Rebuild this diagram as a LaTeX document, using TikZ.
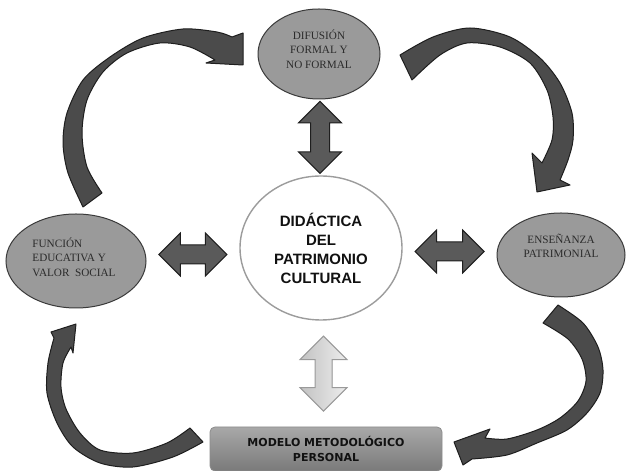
\documentclass[tikz,border=0pt]{standalone}
\usepackage{fontspec}
\setmainfont{Liberation Serif}
\setsansfont{Liberation Sans}
\newfontfamily\plainsans{DejaVu Sans}
\usetikzlibrary{shapes.geometric,shapes.arrows,calc}
\definecolor{ink}{HTML}{111111}
\definecolor{ovaltext}{HTML}{2B2B2B}
\definecolor{ovalfill}{HTML}{9A9A9A}
\definecolor{ovalline}{HTML}{3A3A3A}
\definecolor{hubline}{HTML}{9C9C9C}
\definecolor{turnfill}{HTML}{4B4B4B}
\definecolor{turnline}{HTML}{1E1E1E}
\definecolor{swapfill}{HTML}{5A5A5A}
\definecolor{paletop}{HTML}{EDEDED}
\definecolor{palebottom}{HTML}{C2C2C2}
\definecolor{paleline}{HTML}{9A9A9A}
\definecolor{boxtop}{HTML}{A8A8A8}
\definecolor{boxbottom}{HTML}{7A7A7A}
\definecolor{boxline}{HTML}{8C8C8C}
\tikzset{
  oval/.style={
    ellipse,
    draw=ovalline,
    line width=1pt,
    fill=ovalfill,
    inner sep=0pt
  },
  ovalText/.style={
    font=\rmfamily\fontsize{11.2}{14.5}\selectfont,
    text=ovaltext,
    align=center
  },
  hub/.style={
    ellipse,
    draw=hubline,
    line width=1.4pt,
    fill=white,
    inner sep=0pt,
    minimum width=162,
    minimum height=144,
    align=center,
    font=\sffamily\bfseries\fontsize{15}{19}\selectfont,
    text=ink
  },
  planBox/.style={
    rounded corners=5pt,
    draw=boxline,
    line width=.8pt,
    top color=boxtop,
    bottom color=boxbottom,
    minimum width=232,
    minimum height=44,
    align=center,
    font=\plainsans\bfseries\fontsize{11}{15.5}\selectfont,
    text=ink
  },
  swap/.style={
    double arrow,
    double arrow head extend=12,
    inner sep=0pt,
    inner ysep=9,
    draw=turnline,
    line width=1pt,
    fill=swapfill
  },
  paleSwap/.style={
    swap,
    inner ysep=8,
    double arrow head extend=15,
    draw=paleline,
    left color=palebottom,
    right color=paletop
  },
  turn/.style={draw=turnline,line width=1pt,fill=turnfill,line join=round}
}

\begin{document}
\begin{tikzpicture}[x=1pt,y=1pt]
  \useasboundingbox (0,0) rectangle (627,471);

  \node[oval,minimum width=122,minimum height=90] (dif) at (319,417) {};
  \node[oval,minimum width=140,minimum height=94] (fun) at (76,210) {};
  \node[oval,minimum width=128,minimum height=84] (ens) at (561,216) {};
  \node[hub] (hub) at (321,223) {
    DIDÁCTICA\\DEL\\PATRIMONIO\\CULTURAL
  };
  \node[planBox] (model) at (326,22) {
    MODELO METODOLÓGICO\\PERSONAL
  };

  \node[ovalText] (difText) at ([yshift=5]dif.center) {
    DIFUSIÓN\\FORMAL Y\\NO FORMAL
  };
  \node[ovalText,align=left] (funText) at ([shift={(-2,4)}]fun.center) {
    FUNCIÓN\\EDUCATIVA Y\\VALOR~~SOCIAL
  };
  \node[ovalText] (ensText) at ([yshift=9]ens.center) {
    ENSEÑANZA\\PATRIMONIAL
  };

  % two-way links around the central theme
  \node[swap,rotate=90,minimum height=72] (difSwap)
    at ($(dif.south)!0.5!(hub.north)$) {};
  \node[swap,minimum height=68] (funSwap)
    at ($(fun.east)!0.5!(hub.west)$) {};
  \node[swap,minimum height=69] (ensSwap)
    at ($(hub.east)!0.5!(ens.west)$) {};
  \node[paleSwap,rotate=90,minimum height=75] (modelSwap)
    at ($(hub.south)!0.5!(model.north)$) {};

  % the outer cycle of curved block arrows
  \filldraw[turn] plot[smooth] coordinates {(83,264) (68,298) (63,328) (67,358)
      (83,391) (110,414) (143,433) (183,442) (217,439) (232,434)}
    -- (243,438) -- (243,406) -- (206,408)
    -- plot[smooth] coordinates {(215,411) (190,424) (160,428) (127,418)
      (103,399) (87,371) (82,338) (87,304) (102,278)} -- cycle;
  \filldraw[turn] plot[smooth] coordinates {(400,416) (433,434) (470,443) (510,434)
      (540,413) (560,388) (572,358) (573,331) (568,311) (560,291)}
    -- (570,286) -- (537,279) -- (532,318)
    -- plot[smooth] coordinates {(542,308) (552,331) (553,354) (547,381)
      (530,408) (500,424) (467,428) (440,416) (412,391)} -- cycle;
  \filldraw[turn] plot[smooth] coordinates {(558,166) (583,148) (598,124) (603,101)
      (600,78) (587,58) (567,41) (537,28) (507,16) (472,12)}
    -- (463,6) -- (454,29) -- (490,42)
    -- plot[smooth] coordinates {(485,33) (507,32) (537,41) (560,53)
      (578,70) (586,90) (582,112) (568,132) (543,148)} -- cycle;
  \filldraw[turn] plot[smooth] coordinates {(203,29) (173,14) (133,4) (100,8)
      (73,24) (57,48) (47,78) (48,108) (54,133)}
    -- (51,139) -- (76,147) -- (73,118)
    -- plot[smooth] coordinates {(71,124) (63,108) (61,84) (66,62)
      (80,38) (100,21) (133,18) (167,28) (190,43)} -- cycle;
\end{tikzpicture}
\end{document}
